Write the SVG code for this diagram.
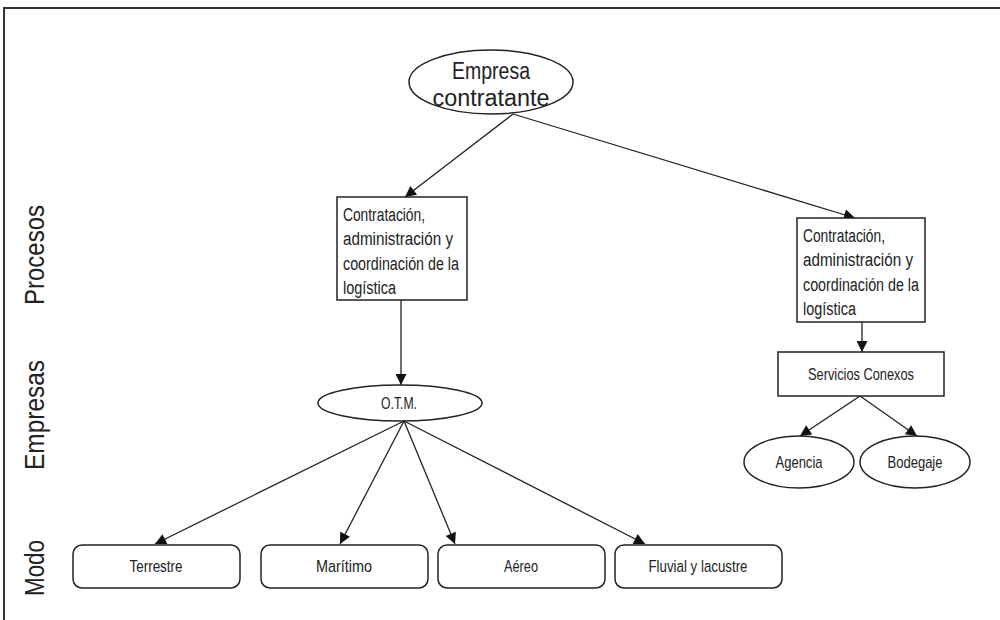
<svg xmlns="http://www.w3.org/2000/svg" width="1000" height="620" viewBox="0 0 1000 620">
<style>
text{font-family:"Liberation Sans",Arial,sans-serif;fill:#222}
.n{fill:#fff;stroke:#222;stroke-width:1.5}
.c{stroke:#222;stroke-width:1.3;fill:none;marker-end:url(#ah)}
.s{font-size:18px}
.m{font-size:17px;text-anchor:middle}
.side{font-size:27px;text-anchor:middle}
</style>
<defs>
<marker id="ah" viewBox="0 0 10 10" refX="10" refY="5" markerWidth="15" markerHeight="11" markerUnits="userSpaceOnUse" orient="auto">
<path d="M0,0 L10,5 L0,10 z" fill="#111"/>
</marker>
</defs>
<rect width="1000" height="620" fill="#fff"/>
<path d="M4,620 V8 H1000" fill="none" stroke="#333" stroke-width="2"/>
<g id="labels">
<text class="side" transform="translate(44,255) rotate(-90)" textLength="100" lengthAdjust="spacingAndGlyphs">Procesos</text>
<text class="side" transform="translate(44,415) rotate(-90)" textLength="110" lengthAdjust="spacingAndGlyphs">Empresas</text>
<text class="side" transform="translate(44,568) rotate(-90)" textLength="56" lengthAdjust="spacingAndGlyphs">Modo</text>
</g>
<g id="connectors">
<line class="c" x1="513" y1="114" x2="405" y2="197"/>
<line class="c" x1="513" y1="114" x2="855" y2="218"/>
<line class="c" x1="401" y1="300" x2="401" y2="385"/>
<line class="c" x1="862" y1="322" x2="862" y2="352"/>
<line class="c" x1="860" y1="396" x2="800" y2="436"/>
<line class="c" x1="860" y1="396" x2="917" y2="436"/>
<line class="c" x1="404" y1="421" x2="155" y2="544"/>
<line class="c" x1="404" y1="421" x2="340" y2="544"/>
<line class="c" x1="404" y1="421" x2="455" y2="544"/>
<line class="c" x1="404" y1="421" x2="645" y2="544"/>
</g>
<g id="empresa">
<ellipse class="n" cx="491" cy="82" rx="82" ry="32" stroke-width="2.8"/>
<text x="491" y="79" style="font-size:23px;text-anchor:middle" textLength="78" lengthAdjust="spacingAndGlyphs">Empresa</text>
<text x="491" y="106" style="font-size:23px;text-anchor:middle" textLength="117" lengthAdjust="spacingAndGlyphs">contratante</text>
</g>
<g id="proc1">
<rect class="n" x="337" y="197" width="130" height="103"/>
<text class="s" x="343" y="221" textLength="82" lengthAdjust="spacingAndGlyphs">Contratación,</text>
<text class="s" x="343" y="245" textLength="110" lengthAdjust="spacingAndGlyphs">administración y</text>
<text class="s" x="343" y="270" textLength="116" lengthAdjust="spacingAndGlyphs">coordinación de la</text>
<text class="s" x="343" y="294" textLength="53" lengthAdjust="spacingAndGlyphs">logística</text>
</g>
<g id="proc2">
<rect class="n" x="797" y="218" width="128" height="104"/>
<text class="s" x="803" y="242" textLength="82" lengthAdjust="spacingAndGlyphs">Contratación,</text>
<text class="s" x="803" y="266" textLength="110" lengthAdjust="spacingAndGlyphs">administración y</text>
<text class="s" x="803" y="291" textLength="116" lengthAdjust="spacingAndGlyphs">coordinación de la</text>
<text class="s" x="803" y="315" textLength="53" lengthAdjust="spacingAndGlyphs">logística</text>
</g>
<g id="otm">
<ellipse class="n" cx="400" cy="403" rx="82" ry="18"/>
<text class="m" x="399" y="409" textLength="36" lengthAdjust="spacingAndGlyphs">O.T.M.</text>
</g>
<g id="servicios">
<rect class="n" x="778" y="352" width="166" height="44"/>
<text class="m" x="861" y="380" textLength="106" lengthAdjust="spacingAndGlyphs">Servicios Conexos</text>
</g>
<g id="agencia">
<ellipse class="n" cx="799" cy="462" rx="55" ry="26"/>
<text class="m" x="799" y="468" textLength="47" lengthAdjust="spacingAndGlyphs">Agencia</text>
</g>
<g id="bodegaje">
<ellipse class="n" cx="915" cy="462" rx="55" ry="26"/>
<text class="m" x="915" y="468" textLength="55" lengthAdjust="spacingAndGlyphs">Bodegaje</text>
</g>
<g id="terrestre">
<rect class="n" x="73" y="545" width="167" height="43" rx="9"/>
<text class="m" x="156" y="572" textLength="53" lengthAdjust="spacingAndGlyphs">Terrestre</text>
</g>
<g id="maritimo">
<rect class="n" x="261" y="545" width="167" height="43" rx="9"/>
<text class="m" x="344" y="572" textLength="56" lengthAdjust="spacingAndGlyphs">Marítimo</text>
</g>
<g id="aereo">
<rect class="n" x="438" y="545" width="167" height="43" rx="9"/>
<text class="m" x="521" y="572" textLength="34" lengthAdjust="spacingAndGlyphs">Aéreo</text>
</g>
<g id="fluvial">
<rect class="n" x="615" y="545" width="167" height="43" rx="9"/>
<text class="m" x="698" y="572" textLength="99" lengthAdjust="spacingAndGlyphs">Fluvial y lacustre</text>
</g>
</svg>
